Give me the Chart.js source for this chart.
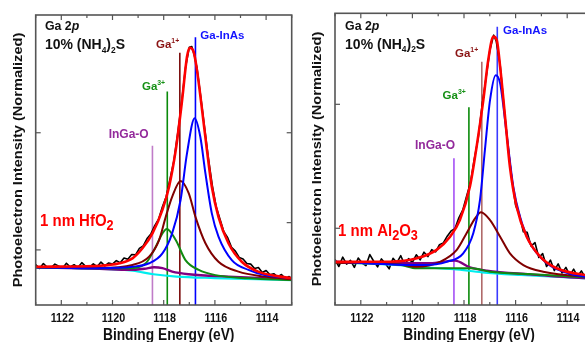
<!DOCTYPE html>
<html><head><meta charset="utf-8">
<script src="https://cdn.jsdelivr.net/npm/chart.js@4/dist/chart.umd.min.js"></script>
<style>
html,body{margin:0;padding:0;background:#fff;overflow:hidden;width:585px;height:342px;position:relative;}
#c1{position:absolute;left:0;top:0;}
#c2{position:absolute;left:290px;top:0;}
</style></head><body>
<canvas id="c1" width="300" height="342"></canvas>
<canvas id="c2" width="310" height="342"></canvas>
<script>
// ---------- shared axis data ----------
const xTickLabels = [1122, 1120, 1118, 1116, 1114];
const xMinorTicks = [1123, 1121, 1119, 1117, 1115, 1113];

// ---------- Panel 1: 1 nm HfO2 ----------
const hfRawE = [1123.0,1122.85,1122.7,1122.55,1122.4,1122.25,1122.1,1121.95,1121.8,1121.65,1121.5,1121.35,1121.2,1121.05,1120.9,1120.75,1120.6,1120.45,1120.3,1120.15,1120.0,1119.85,1119.7,1119.55,1119.4,1119.25,1119.1,1118.95,1118.8,1118.65,1118.5,1118.35,1118.2,1118.05,1117.9,1117.75,1117.6,1117.45,1117.3,1117.15,1117.0,1116.9,1116.8,1116.7,1116.55,1116.4,1116.25,1116.1,1115.95,1115.8,1115.65,1115.5,1115.35,1115.2,1115.05,1114.9,1114.75,1114.6,1114.45,1114.3,1114.15,1114.0,1113.85,1113.7,1113.55,1113.4,1113.25,1113.1,1113.0];
const hfRawI = [13.9,12.6,14.3,13.0,12.8,14.1,13.4,12.7,14.4,13.1,13.9,12.9,14.6,13.3,13.0,14.2,13.2,14.8,13.5,14.5,14.1,15.3,14.6,16.2,15.8,17.4,17.3,19.5,20.4,22.9,24.5,27.4,29.6,33.9,37.4,43.6,49.9,59.4,69.9,81.8,88.9,89.1,85.9,81.8,71.6,60.9,50.3,41.2,33.9,29.6,25.3,23.2,19.9,18.6,16.4,15.9,14.3,14.1,12.6,12.9,11.2,11.9,10.4,10.8,9.7,10.5,9.1,9.8,9.0];
const hfFitE = [1123.0,1120.51,1119.73,1119.22,1118.83,1118.44,1118.05,1117.79,1117.53,1117.28,1117.09,1116.98,1116.83,1116.70,1116.50,1116.31,1116.12,1115.86,1115.47,1114.95,1114.31,1113.0];
const hfFitI = [13.2,13.55,14.4,16.1,19.55,24.7,32.8,40.8,53.4,70.7,85.6,88.7,87.3,81.0,67.2,53.4,40.8,30.4,21.3,14.9,11.5,9.2];
const hfInAsE = [1123.0,1120.5,1119.22,1118.57,1118.05,1117.67,1117.34,1117.09,1116.79,1116.57,1116.37,1116.12,1115.86,1115.34,1114.69,1114.05,1113.0];
const hfInAsI = [13.0,12.7,13.2,14.4,17.8,24.7,36.2,52.3,64.4,58.0,45.4,31.6,23.6,15.5,12.1,10.3,9.2];
const hfGa1E = [1123.0,1120.51,1119.22,1118.57,1118.18,1117.92,1117.67,1117.34,1117.02,1116.76,1116.37,1115.86,1115.08,1114.05,1113.0];
const hfGa1I = [13.0,12.8,13.8,16.7,22.4,30.4,37.3,42.8,38.5,30.4,21.3,14.9,11.5,9.8,8.9];
const hfGa3E = [1123.0,1120.5,1119.35,1118.70,1118.31,1118.05,1117.88,1117.53,1117.15,1116.63,1115.98,1114.69,1113.0];
const hfGa3I = [13.0,12.7,12.7,14.4,20.1,24.7,26.2,22.4,15.5,12.1,10.3,9.2,8.6];
const hfOxE = [1123.0,1120.5,1119.35,1118.75,1118.38,1118.05,1117.67,1117.02,1115.47,1113.0];
const hfOxI = [13.0,12.5,12.1,12.5,13.0,12.7,11.5,10.6,9.8,8.9];
const hfBgE = [1123.0,1120.5,1119.2,1118.4,1117.5,1116.0,1113.0];
const hfBgI = [13.0,12.5,11.8,10.6,9.8,9.3,8.6];
const hfLineE = [1118.44,1117.86,1117.37,1116.76];   // InGa-O, Ga3+, Ga1+, Ga-InAs
const hfLineTop = [54.9,73.6,87.0,92.3];
const hfYTicksLeft = [19.0,59.4];
const hfYTicksRight = [28.4,59.4];

// ---------- Panel 2: 1 nm Al2O3 ----------
const alRawE = [1123.0,1122.85,1122.7,1122.55,1122.4,1122.25,1122.1,1121.95,1121.8,1121.65,1121.5,1121.35,1121.2,1121.05,1120.9,1120.75,1120.6,1120.45,1120.3,1120.15,1120.0,1119.85,1119.7,1119.55,1119.4,1119.25,1119.1,1118.95,1118.8,1118.65,1118.5,1118.35,1118.2,1118.05,1117.9,1117.75,1117.6,1117.45,1117.3,1117.15,1117.0,1116.85,1116.75,1116.6,1116.45,1116.3,1116.15,1116.0,1115.85,1115.7,1115.55,1115.4,1115.25,1115.1,1114.95,1114.8,1114.65,1114.5,1114.35,1114.2,1114.05,1113.9,1113.75,1113.6,1113.45,1113.3,1113.15,1113.0];
const alRawI = [15.6,13.2,16.4,14.0,15.3,12.9,16.1,14.4,13.5,17.3,15.0,13.1,15.8,14.2,12.4,16.0,14.5,16.9,13.8,15.9,14.6,17.2,15.5,18.1,16.6,19.0,18.2,20.7,21.3,23.6,25.4,26.2,29.9,32.5,37.3,41.9,50.1,57.2,68.4,77.6,87.2,92.5,90.4,82.4,68.1,54.9,43.6,34.2,30.8,25.1,24.9,20.2,21.4,16.3,17.6,13.2,15.4,11.8,14.1,11.0,12.9,10.1,12.3,9.8,11.7,9.4,10.9,7.2];
const alFitE = [1123.0,1120.87,1119.83,1119.06,1118.54,1118.16,1117.77,1117.51,1117.25,1117.06,1116.86,1116.73,1116.60,1116.41,1116.22,1115.96,1115.57,1115.05,1114.41,1113.31,1113.0];
const alFitI = [14.8,14.85,16.0,18.9,23.4,29.1,40.6,54.3,70.3,84.0,92.0,90.8,81.7,64.6,47.4,33.7,23.4,16.6,12.6,10.3,10.1];
const alInAsE = [1123.0,1119.58,1118.67,1118.03,1117.64,1117.38,1117.19,1116.99,1116.77,1116.60,1116.35,1116.09,1115.83,1115.44,1114.79,1114.15,1113.31,1113.0];
const alInAsI = [14.8,13.7,14.8,17.7,24.6,36.0,53.1,70.3,78.8,76.0,58.9,40.6,30.3,21.2,14.3,11.4,9.7,9.6];
const alGa1E = [1123.0,1120.5,1119.83,1118.93,1118.28,1117.90,1117.57,1117.34,1116.99,1116.60,1116.22,1115.70,1114.93,1113.31,1113.0];
const alGa1I = [14.5,13.9,13.1,14.8,18.9,24.6,29.7,31.8,29.1,23.4,17.7,13.7,11.4,9.7,9.6];
const alGa3E = [1123.0,1120.5,1119.83,1118.6,1117.70,1116.99,1115.5,1113.0];
const alGa3I = [14.6,13.8,12.6,12.6,12.6,11.4,10.6,9.3];
const alOxE = [1123.0,1119.32,1118.35,1117.77,1117.12,1115.44,1113.38,1113.0];
const alOxI = [14.8,14.3,15.2,12.9,11.8,10.5,9.2,9.1];
const alBgE = [1123.0,1120.5,1119.0,1118.4,1117.3,1115.8,1113.0];
const alBgI = [14.6,13.7,12.6,12.3,11.2,10.3,9.0];
const alLineE = [1118.39,1117.81,1117.31,1116.71];
const alLineTop = [50.3,67.8,83.4,95.4];
const alYTicksLeft = [26.3,68.8];
const alYTicksRight = [];

// ---------- text ----------
const Y_TITLE = 'Photoelectron Intensity (Normalized)';
const X_TITLE = 'Binding Energy (eV)';

const FONT = '"Liberation Sans", Arial, Helvetica, sans-serif';
Chart.defaults.font.family = FONT;

function ser(E, I) { return E.map((e, k) => ({x: e, y: I[k]})); }

function drawRuns(ctx, x, yBase, runs, size, color, sx, subScale, subDy) {
  ctx.save();
  ctx.translate(x, yBase);
  ctx.scale(sx, 1);
  ctx.fillStyle = color;
  ctx.textBaseline = 'alphabetic';
  ctx.textAlign = 'left';
  let cx = 0;
  for (const [t, k] of runs) {
    let fs = size, dy = 0, st = 'bold ';
    if (k === 'i') st = 'italic bold ';
    else if (k === 'sub') { fs = size * subScale; dy = size * subDy; }
    else if (k === 'sup') { fs = size * 0.6; dy = -size * 0.42; }
    ctx.font = st + fs.toFixed(1) + 'px ' + FONT;
    ctx.fillText(t, cx, dy);
    cx += ctx.measureText(t).width;
  }
  ctx.restore();
}

function makePanel(canvasId, P) {
  const vColors = P.vColors;
  const datasets = [
    {data: ser(P.fitE, P.fitI), borderColor: '#ff0000', borderWidth: 2.6, cubicInterpolationMode: 'monotone'},
    {data: ser(P.inasE, P.inasI), borderColor: '#0000ff', borderWidth: 2, cubicInterpolationMode: 'monotone'},
    {data: ser(P.ga1E, P.ga1I), borderColor: '#800000', borderWidth: 2, cubicInterpolationMode: 'monotone'},
    {data: ser(P.ga3E, P.ga3I), borderColor: '#108a10', borderWidth: 2, cubicInterpolationMode: 'monotone'},
    {data: ser(P.oxE, P.oxI), borderColor: '#800080', borderWidth: 2.4, cubicInterpolationMode: 'monotone'},
    {data: ser(P.bgE, P.bgI), borderColor: '#00eeee', borderWidth: 2.2, cubicInterpolationMode: 'monotone'},
    {data: ser(P.rawE, P.rawI), borderColor: '#000000', borderWidth: 1.6, tension: 0},
  ];
  P.lineE.forEach((e, k) => {
    datasets.push({data: [{x: e, y: 0}, {x: e, y: P.lineTop[k]}], borderColor: vColors[k], borderWidth: 1.6, tension: 0});
  });

  const deco = {
    id: 'deco',
    afterDraw(chart) {
      const ctx = chart.ctx, ca = chart.chartArea;
      const xs = chart.scales.x, ys = chart.scales.y;
      ctx.save();
      // frame
      ctx.strokeStyle = '#555';
      ctx.lineWidth = 1.6;
      ctx.strokeRect(ca.left, ca.top, ca.right - ca.left, ca.bottom - ca.top);
      // x ticks (inward, top and bottom)
      ctx.lineWidth = 1.2;
      const tick = (v, len) => {
        const px = xs.getPixelForValue(v);
        ctx.beginPath();
        ctx.moveTo(px, ca.bottom); ctx.lineTo(px, ca.bottom - len);
        ctx.moveTo(px, ca.top); ctx.lineTo(px, ca.top + len);
        ctx.stroke();
      };
      xTickLabels.forEach(v => tick(v, 5));
      xMinorTicks.forEach(v => tick(v, 3));
      // y ticks
      P.yTicksLeft.forEach(v => {
        const py = ys.getPixelForValue(v);
        ctx.beginPath(); ctx.moveTo(ca.left, py); ctx.lineTo(ca.left + 5, py); ctx.stroke();
      });
      P.yTicksRight.forEach(v => {
        const py = ys.getPixelForValue(v);
        ctx.beginPath(); ctx.moveTo(ca.right, py); ctx.lineTo(ca.right - 5, py); ctx.stroke();
      });
      // x tick labels
      xTickLabels.forEach(v => {
        const px = xs.getPixelForValue(v);
        ctx.save();
        ctx.translate(px + 1, ca.bottom + 17);
        ctx.scale(0.86, 1);
        ctx.font = 'bold 12.5px ' + FONT;
        ctx.fillStyle = '#111';
        ctx.textAlign = 'center';
        ctx.textBaseline = 'alphabetic';
        ctx.fillText(String(v), 0, 0);
        ctx.restore();
      });
      // x title
      ctx.save();
      ctx.translate((ca.left + ca.right) / 2 + 5, 339.5);
      ctx.scale(0.86, 1);
      ctx.font = 'bold 16px ' + FONT;
      ctx.fillStyle = '#111';
      ctx.textAlign = 'center';
      ctx.textBaseline = 'alphabetic';
      ctx.fillText(X_TITLE, 0, 0);
      ctx.restore();
      // y title
      ctx.save();
      ctx.translate(P.yTitleX, P.yTitleY);
      ctx.rotate(-Math.PI / 2);
      ctx.scale(1, 0.9);
      ctx.font = 'bold 14.6px ' + FONT;
      ctx.fillStyle = '#111';
      ctx.textAlign = 'center';
      ctx.textBaseline = 'middle';
      ctx.fillText(Y_TITLE, 0, 0);
      ctx.restore();
      // annotations
      P.labels.forEach(L => {
        const px = xs.getPixelForValue(L.e);
        const py = ys.getPixelForValue(L.v) + 0.358 * L.size;
        drawRuns(ctx, px, py, L.runs, L.size, L.color, L.sx, L.subScale || 0.6, L.subDy || 0.25);
      });
      ctx.restore();
    }
  };

  return new Chart(document.getElementById(canvasId), {
    type: 'line',
    data: {datasets},
    options: {
      responsive: false,
      animation: false,
      events: [],
      layout: {padding: P.pad},
      elements: {point: {radius: 0}, line: {fill: false, borderJoinStyle: 'round'}},
      plugins: {legend: {display: false}, tooltip: {enabled: false}},
      scales: {
        x: {type: 'linear', reverse: true, min: 1113, max: 1123, display: false},
        y: {type: 'linear', min: 0, max: 100, display: false}
      }
    },
    plugins: [deco]
  });
}

const labelInAs = [['Ga-InAs', '']];
const labelGa1 = [['Ga', ''], ['1+', 'sup']];
const labelGa3 = [['Ga', ''], ['3+', 'sup']];
const labelOx = [['InGa-O', '']];
const labelCore = [['Ga 2', ''], ['p', 'i']];
const labelTreat = [['10% (NH', ''], ['4', 'sub'], [')', ''], ['2', 'sub'], ['S', '']];
const labelHf = [['1 nm HfO', ''], ['2', 'sub']];
const labelAl = [['1 nm Al', ''], ['2', 'sub'], ['O', ''], ['3', 'sub']];

makePanel('c1', {
  rawE: hfRawE, rawI: hfRawI, fitE: hfFitE, fitI: hfFitI, inasE: hfInAsE, inasI: hfInAsI,
  ga1E: hfGa1E, ga1I: hfGa1I, ga3E: hfGa3E, ga3I: hfGa3I, oxE: hfOxE, oxI: hfOxI, bgE: hfBgE, bgI: hfBgI,
  lineE: hfLineE, lineTop: hfLineTop, yTicksLeft: hfYTicksLeft, yTicksRight: hfYTicksRight,
  vColors: ['#c07cc8', '#0a8a0a', '#7a0a0a', '#0000ff'],
  pad: {left: 35.7, right: 8.3, top: 15, bottom: 37},
  yTitleX: 18.3, yTitleY: 160,
  labels: [
    {runs: labelCore, e: 1122.64, v: 96.6, size: 13, color: '#111', sx: 0.95},
    {runs: labelTreat, e: 1122.64, v: 90.0, size: 14, color: '#111', sx: 1.0, subScale: 0.6, subDy: 0.25},
    {runs: labelInAs, e: 1116.57, v: 93.1, size: 11.5, color: '#1414ff', sx: 1.0},
    {runs: labelGa1, e: 1118.30, v: 90.0, size: 11.5, color: '#8b1414', sx: 1.0},
    {runs: labelGa3, e: 1118.85, v: 75.6, size: 11.5, color: '#159015', sx: 1.0},
    {runs: labelOx, e: 1120.15, v: 59.2, size: 12, color: '#93299b', sx: 1.0},
    {runs: labelHf, e: 1122.83, v: 29.3, size: 17, color: '#ff0000', sx: 0.88, subScale: 0.85, subDy: 0.22}
  ]
});

makePanel('c2', {
  rawE: alRawE, rawI: alRawI, fitE: alFitE, fitI: alFitI, inasE: alInAsE, inasI: alInAsI,
  ga1E: alGa1E, ga1I: alGa1I, ga3E: alGa3E, ga3I: alGa3I, oxE: alOxE, oxI: alOxI, bgE: alBgE, bgI: alBgI,
  lineE: alLineE, lineTop: alLineTop, yTicksLeft: alYTicksLeft, yTicksRight: alYTicksRight,
  vColors: ['#a450f5', '#0a8a0a', '#b06a6a', '#3a3aff'],
  pad: {left: 45, right: 7, top: 13.3, bottom: 37},
  yTitleX: 27.5, yTitleY: 159,
  labels: [
    {runs: labelCore, e: 1122.61, v: 96.0, size: 13, color: '#111', sx: 0.95},
    {runs: labelTreat, e: 1122.61, v: 89.5, size: 14, color: '#111', sx: 1.0, subScale: 0.6, subDy: 0.25},
    {runs: labelInAs, e: 1116.49, v: 94.3, size: 11.5, color: '#1414ff', sx: 1.0},
    {runs: labelGa1, e: 1118.35, v: 86.5, size: 11.5, color: '#8b1414', sx: 1.0},
    {runs: labelGa3, e: 1118.83, v: 72.0, size: 11.5, color: '#159015', sx: 1.0},
    {runs: labelOx, e: 1119.90, v: 54.9, size: 12, color: '#93299b', sx: 1.0},
    {runs: labelAl, e: 1122.88, v: 25.7, size: 17, color: '#ff0000', sx: 0.88, subScale: 0.85, subDy: 0.22}
  ]
});
</script>
</body></html>
